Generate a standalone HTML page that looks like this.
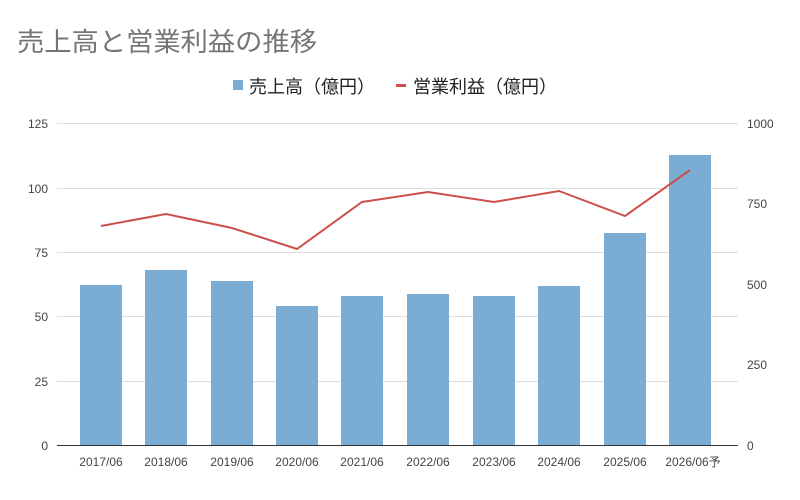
<!DOCTYPE html>
<html><head><meta charset="utf-8"><style>
body{margin:0;background:#fff;}
svg text{font-family:"Liberation Sans","Noto Sans CJK JP",sans-serif;}
</style></head><body>
<svg width="800" height="495" viewBox="0 0 800 495" xmlns="http://www.w3.org/2000/svg">
<rect width="800" height="495" fill="#fff"/>
<text x="17" y="51" font-size="26" fill="#757575" textLength="300" lengthAdjust="spacingAndGlyphs">売上高と営業利益の推移</text>
<rect x="233" y="80" width="10" height="10" fill="#7bacd3"/>
<text x="249" y="93" font-size="18" fill="#222">売上高（億円）</text>
<rect x="396" y="84" width="10" height="3" fill="#cc4f4b"/>
<text x="413" y="93" font-size="18" fill="#222">営業利益（億円）</text>
<g stroke="#dcdcdc" stroke-width="1">
<line x1="57" x2="738" y1="123.5" y2="123.5"/>
<line x1="57" x2="738" y1="188.5" y2="188.5"/>
<line x1="57" x2="738" y1="252.5" y2="252.5"/>
<line x1="57" x2="738" y1="316.5" y2="316.5"/>
<line x1="57" x2="738" y1="381.5" y2="381.5"/>
</g>
<g font-size="12" fill="#444" text-anchor="end">
<text x="48" y="128">125</text><text x="48" y="193">100</text><text x="48" y="257">75</text>
<text x="48" y="321">50</text><text x="48" y="386">25</text><text x="48" y="450">0</text>
</g>
<g font-size="12" fill="#444" text-anchor="start">
<text x="747" y="128">1000</text><text x="747" y="208">750</text><text x="747" y="289">500</text>
<text x="747" y="369">250</text><text x="747" y="450">0</text>
</g>
<g fill="#7bacd3">
<rect x="80" y="285" width="42" height="160"/>
<rect x="145" y="270" width="42" height="175"/>
<rect x="211" y="281" width="42" height="164"/>
<rect x="276" y="306" width="42" height="139"/>
<rect x="341" y="296" width="42" height="149"/>
<rect x="407" y="294" width="42" height="151"/>
<rect x="473" y="296" width="42" height="149"/>
<rect x="538" y="286" width="42" height="159"/>
<rect x="604" y="233" width="42" height="212"/>
<rect x="669" y="155" width="42" height="290"/>
</g>
<line x1="57" x2="738" y1="445.5" y2="445.5" stroke="#333" stroke-width="1"/>
<polyline fill="none" stroke="#cc4f4b" stroke-width="2" points="101,226 166,214 232,228 297,249 362,202 428,192 494,202 559,191 625,216 690,170"/>
<g font-size="12" fill="#444" text-anchor="middle">
<text x="101" y="466">2017/06</text><text x="166" y="466">2018/06</text><text x="232" y="466">2019/06</text>
<text x="297" y="466">2020/06</text><text x="362" y="466">2021/06</text><text x="428" y="466">2022/06</text>
<text x="494" y="466">2023/06</text><text x="559" y="466">2024/06</text><text x="625" y="466">2025/06</text>
<text x="693" y="466">2026/06予</text>
</g>
</svg>
</body></html>
